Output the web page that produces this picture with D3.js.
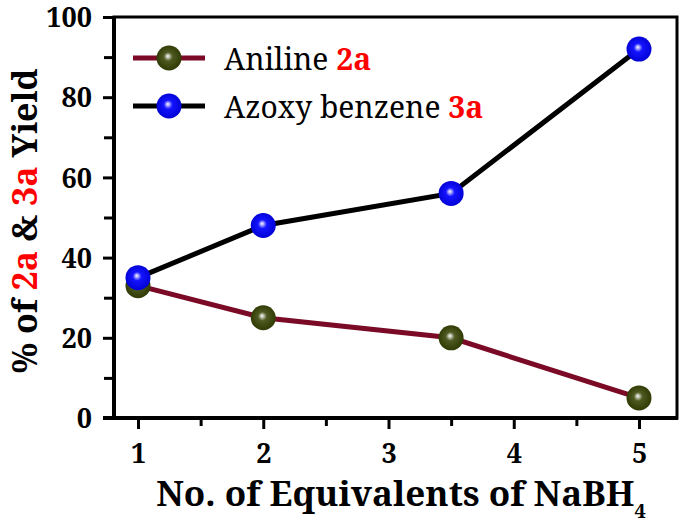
<!DOCTYPE html>
<html lang="en">
<head>
<meta charset="UTF-8">
<title>NaBH4 yield</title>
<script src="https://cdn.jsdelivr.net/npm/d3@7"></script>
<style>
  body { margin:0; background:#fff; }
</style>
</head>
<body>
<div id="chart"></div>
<script>
// data
const equivalents = [1, 2, 3.5, 5];
const aniline = [33, 25, 20, 5];
const azoxy = [35, 48, 56, 92];
const xTicks = [1, 2, 3, 4, 5];
const yTicks = [0, 20, 40, 60, 80, 100];

const W = 685, H = 525;
const pLeft = 114, pRight = 677, pTop = 17, pBottom = 418;
const FONT = "'Noto Serif', 'Liberation Serif', serif";

const svg = d3.select("#chart").append("svg")
    .attr("width", W).attr("height", H);

const x = d3.scaleLinear().domain([1, 5]).range([138, 639]);
const y = d3.scaleLinear().domain([0, 100]).range([pBottom, pTop]);

// sphere-looking markers
const defs = svg.append("defs");
function ball(id, dark, mid) {
  const g = defs.append("radialGradient").attr("id", id)
      .attr("cx", "50%").attr("cy", "50%").attr("r", "55%")
      .attr("fx", "45%").attr("fy", "42%");
  g.append("stop").attr("offset", "0%").attr("stop-color", "#fff");
  g.append("stop").attr("offset", "32%").attr("stop-color", mid);
  g.append("stop").attr("offset", "100%").attr("stop-color", dark);
}
ball("olive", "#2b3600", "#4f5a22");
ball("blue", "#0000d0", "#1414ff");

// frame
svg.append("rect").attr("x", pLeft).attr("y", pTop)
    .attr("width", pRight - pLeft).attr("height", pBottom - pTop)
    .attr("fill", "none").attr("stroke", "#000").attr("stroke-width", 3);

// x axis
const xAxis = svg.append("g").attr("transform", `translate(0,${pBottom})`)
    .call(d3.axisBottom(x).tickValues(xTicks).tickFormat(d3.format("d"))
      .tickSize(11).tickPadding(15));
xAxis.select(".domain").remove();
xAxis.selectAll("line").attr("stroke-width", 3);
xAxis.selectAll("text").attr("font-size", 27).attr("font-weight", "bold")
    .attr("fill", "#000");
svg.append("g").attr("transform", `translate(0,${pBottom})`)
    .call(d3.axisBottom(x).tickValues([1.5, 2.5, 3.5, 4.5]).tickFormat("").tickSize(8))
    .call(g => g.select(".domain").remove())
    .selectAll("line").attr("stroke-width", 3);
svg.append("line").attr("x1", pLeft - 11).attr("x2", pRight + 1)
    .attr("y1", pBottom).attr("y2", pBottom).attr("stroke", "#000").attr("stroke-width", 4);

// y axis
const yAxis = svg.append("g").attr("transform", `translate(${pLeft},0)`)
    .call(d3.axisLeft(y).tickValues(yTicks).tickSize(11).tickPadding(11));
yAxis.select(".domain").remove();
yAxis.selectAll("line").attr("stroke-width", 3);
yAxis.selectAll("text").attr("font-size", 27).attr("font-weight", "bold")
    .attr("fill", "#000").attr("dy", "0.36em");
svg.append("g").attr("transform", `translate(${pLeft},0)`)
    .call(d3.axisLeft(y).tickValues([10, 30, 50, 70, 90]).tickFormat("").tickSize(10))
    .call(g => g.select(".domain").remove())
    .selectAll("line").attr("stroke-width", 3);
svg.append("line").attr("x1", pLeft).attr("x2", pLeft)
    .attr("y1", pTop - 1).attr("y2", pBottom + 2).attr("stroke", "#000").attr("stroke-width", 4);

// series
const series = [
  {name: "Aniline ", tag: "2a", vals: aniline, line: "#7a0a26", fill: "url(#olive)"},
  {name: "Azoxy benzene ", tag: "3a", vals: azoxy, line: "#000", fill: "url(#blue)"}
];
const line = d3.line().x(d => x(d[0])).y(d => y(d[1]));
series.forEach(s => {
  const pts = equivalents.map((e, i) => [e, s.vals[i]]);
  svg.append("path").datum(pts).attr("d", line)
      .attr("fill", "none").attr("stroke", s.line).attr("stroke-width", 5);
});
series.forEach(s => {
  const pts = equivalents.map((e, i) => [e, s.vals[i]]);
  svg.selectAll(null).data(pts).enter().append("circle")
      .attr("cx", d => x(d[0])).attr("cy", d => y(d[1]))
      .attr("r", 12.5).attr("fill", s.fill);
});

// legend
series.forEach((s, i) => {
  const ly = 58 + i * 48;
  svg.append("line").attr("x1", 133).attr("x2", 205).attr("y1", ly).attr("y2", ly)
      .attr("stroke", s.line).attr("stroke-width", 5);
  svg.append("circle").attr("cx", 169).attr("cy", ly).attr("r", 12.5).attr("fill", s.fill);
  const t = svg.append("text").attr("x", 224).attr("y", ly + 12)
      .attr("font-size", 30).attr("fill", "#000");
  t.append("tspan").text(s.name);
  t.append("tspan").text(s.tag).attr("fill", "#ff0000").attr("font-weight", "bold");
});

// axis titles
const xt = svg.append("text").attr("x", 401).attr("y", 506)
    .attr("text-anchor", "middle").attr("font-size", 35).attr("font-weight", "bold");
xt.append("tspan").text("No. of Equivalents of NaBH");
xt.append("tspan").text("4").attr("font-size", 20).attr("dy", 12);

const yt = svg.append("text").attr("transform", "translate(37,221) rotate(-90)")
    .attr("text-anchor", "middle").attr("font-size", 34).attr("font-weight", "bold");
yt.append("tspan").text("% of ");
yt.append("tspan").text("2a").attr("fill", "#ff0000");
yt.append("tspan").text(" & ");
yt.append("tspan").text("3a").attr("fill", "#ff0000");
yt.append("tspan").text(" Yield");

svg.selectAll("text").style("font-family", FONT);
</script>
</body>
</html>
